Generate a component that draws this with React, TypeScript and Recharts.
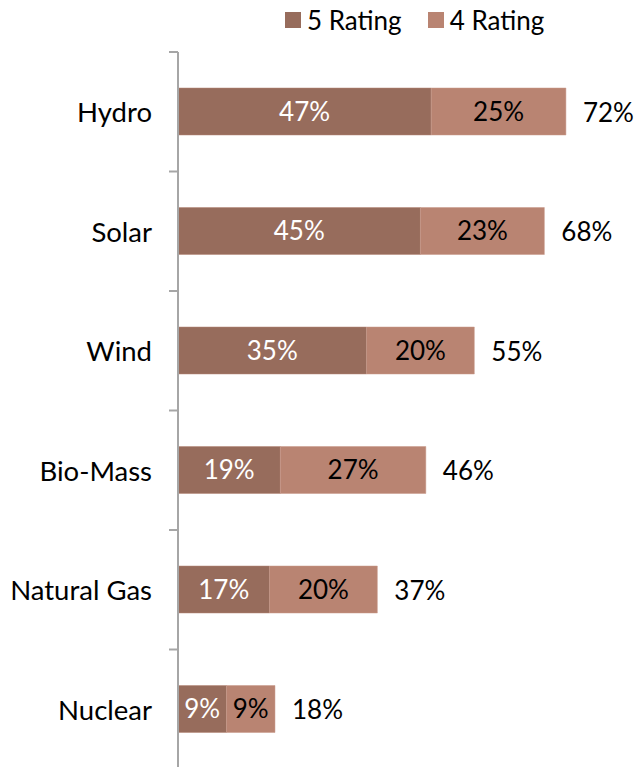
import { BarChart, Bar, XAxis, YAxis, LabelList } from 'recharts';

const categories = ['Hydro', 'Solar', 'Wind', 'Bio-Mass', 'Natural Gas', 'Nuclear'];
const rating5 = [47, 45, 35, 19, 17, 9];
const rating4 = [25, 23, 20, 27, 20, 9];
const seriesNames = ['5 Rating', '4 Rating'];
const COLORS = ['#976C5C', '#B98472'];

const FONT = 'Lato, "Open Sans", sans-serif';
const FS = 26;
const CAT_FS = 27.5;

const data = categories.map((name, i) => ({
  name,
  r5: rating5[i],
  r4: rating4[i],
  total: rating5[i] + rating4[i],
}));

const BAND = 119.5;

const CategoryTick = (props: any) => {
  const { x, y, payload, index } = props;
  return (
    <g>
      <line x1={x - 9} x2={x} y1={y - BAND / 2} y2={y - BAND / 2} stroke="#A6A6A6" strokeWidth={2} />
      {index === categories.length - 1 && (
        <line x1={x - 9} x2={x} y1={y + BAND / 2} y2={y + BAND / 2} stroke="#A6A6A6" strokeWidth={2} />
      )}
      <text x={x - 26} y={y} textAnchor="end" dominantBaseline="central" fontSize={CAT_FS} fill="#000" fontFamily={FONT}>
        {payload.value}
      </text>
    </g>
  );
};

const TotalLabel = (props: any) => {
  const { x, y, width, height, index } = props;
  return (
    <text
      x={x + width + 17}
      y={y + height / 2}
      dominantBaseline="central"
      fontSize={FS}
      fill="#000"
      fontFamily={FONT}
    >
      {data[index].total}%
    </text>
  );
};

const App = () => {
  return (
    <div style={{ position: 'fixed', top: 0, left: 0, width: 634, height: 767, overflow: 'hidden', background: '#fff' }}>
      <div
        style={{
          position: 'absolute',
          top: 4,
          left: 285,
          display: 'flex',
          alignItems: 'center',
          fontFamily: FONT,
          fontSize: FS,
          lineHeight: '32px',
          zIndex: 1,
        }}
      >
        {seriesNames.map((s, i) => (
          <div key={s} style={{ display: 'flex', alignItems: 'center', marginRight: 26 }}>
            <span style={{ width: 16, height: 16, background: COLORS[i], marginRight: 6, display: 'inline-block' }} />
            <span>{s}</span>
          </div>
        ))}
      </div>
      <BarChart
        width={634}
        height={780}
        data={data}
        layout="vertical"
        margin={{ top: 52, right: 25, bottom: 11, left: 8 }}
        barSize={47}
      >
        <XAxis type="number" domain={[0, 80]} hide />
        <YAxis
          type="category"
          dataKey="name"
          width={170}
          axisLine={{ stroke: '#A6A6A6', strokeWidth: 2 }}
          tickLine={false}
          tickSize={0}
          tickMargin={0}
          tick={<CategoryTick />}
          interval={0}
        />
        <Bar dataKey="r5" stackId="a" fill={COLORS[0]} isAnimationActive={false} stroke="#B48676" strokeWidth={0.5}>
          <LabelList
            dataKey="r5"
            position="center"
            formatter={(v: any) => `${v}%`}
            fill="#FFFFFF"
            fontSize={FS}
            fontFamily={FONT}
          />
        </Bar>
        <Bar dataKey="r4" stackId="a" fill={COLORS[1]} isAnimationActive={false} stroke="#C9998A" strokeWidth={0.5}>
          <LabelList
            dataKey="r4"
            position="center"
            formatter={(v: any) => `${v}%`}
            fill="#000000"
            fontSize={FS}
            fontFamily={FONT}
          />
          <LabelList dataKey="total" content={<TotalLabel />} />
        </Bar>
      </BarChart>
    </div>
  );
};

export default App;
